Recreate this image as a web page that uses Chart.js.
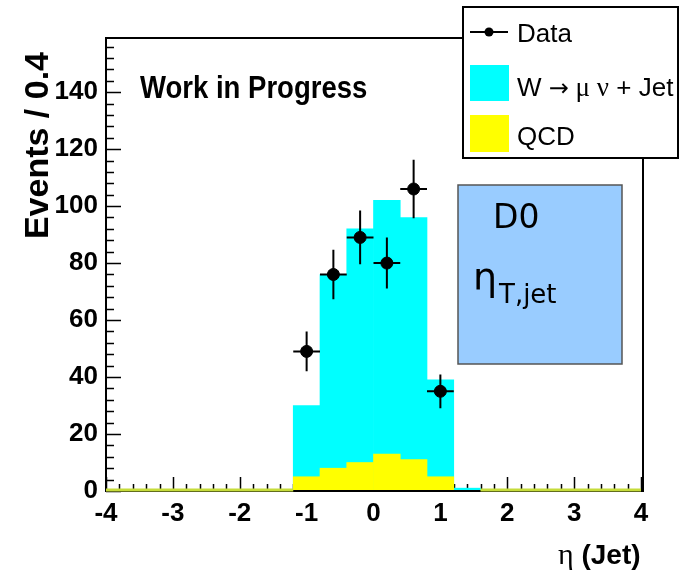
<!DOCTYPE html>
<html>
<head>
<meta charset="utf-8">
<script src="https://cdn.jsdelivr.net/npm/chart.js@4.4.1/dist/chart.umd.min.js"></script>
<style>
  html, body { margin: 0; padding: 0; background: #fff; }
  #wrap { width: 687px; height: 573px; }
</style>
</head>
<body>
<div id="wrap"><canvas id="etaChart" width="687" height="573"></canvas></div>
<script>
// eta(jet) histogram, 20 bins of width 0.4 from -4 to 4
const binCenters = [-3.8, -3.4, -3.0, -2.6, -2.2, -1.8, -1.4, -1.0, -0.6, -0.2,
                    0.2, 0.6, 1.0, 1.4, 1.8, 2.2, 2.6, 3.0, 3.4, 3.8];
const binWidth = 0.4;
const qcd      = [0, 0, 0, 0, 0, 0, 0, 5, 8, 10, 13, 11, 5, 0, 0, 0, 0, 0, 0, 0];
const wjets    = [0, 0, 0, 0, 0, 0, 0, 25, 68, 82, 89, 85, 34, 1, 0, 0, 0, 0, 0, 0];
const observed = [0, 0, 0, 0, 0, 0, 0, 49, 76, 89, 80, 106, 35, 0, 0, 0, 0, 0, 0, 0];

const SANS = "'Liberation Sans', Arial, Helvetica, sans-serif";
const SERIF = "'Liberation Serif', 'Times New Roman', serif";
const HAND = "'DejaVu Sans', sans-serif";

// stacked sum: QCD at the bottom, W+jets above it
const stackTotal = wjets.map((w, i) => w + qcd[i]);

function drawRuns(ctx, x, y, runs) {
  for (const r of runs) {
    ctx.font = r.font;
    ctx.fillText(r.text, x, y);
    x += ctx.measureText(r.text).width;
  }
  return x;
}

const rootStyle = {
  id: 'rootStyle',
  beforeDatasetsDraw(chart) {
    const { ctx, chartArea: a, scales: { x, y } } = chart;
    ctx.save();
    ctx.strokeStyle = '#000';
    ctx.lineWidth = 1.5;
    ctx.beginPath();
    // inward ticks on the x axis: major every 1, minor every 0.2
    for (let v = -4; v <= 4.0001; v += 0.2) {
      const px = Math.round(x.getPixelForValue(v)) + 0.5;
      const major = Math.abs(v - Math.round(v)) < 1e-6;
      ctx.moveTo(px, a.bottom);
      ctx.lineTo(px, a.bottom - (major ? 14 : 7));
    }
    // inward ticks on the y axis: major every 20, minor every 4
    for (let v = 0; v <= 158; v += 4) {
      const py = Math.round(y.getPixelForValue(v)) + 0.5;
      const major = v % 20 === 0;
      ctx.moveTo(a.left, py);
      ctx.lineTo(a.left + (major ? 15 : 8), py);
    }
    ctx.stroke();
    ctx.restore();
  },
  afterDatasetsDraw(chart) {
    const { ctx, chartArea: a, scales: { x, y } } = chart;
    ctx.save();

    // statistical error bars on the data points
    ctx.strokeStyle = '#000';
    ctx.lineWidth = 2;
    ctx.beginPath();
    observed.forEach((n, i) => {
      if (n <= 0) return;
      const err = Math.sqrt(n);
      const cx = x.getPixelForValue(binCenters[i]);
      const cy = y.getPixelForValue(n);
      ctx.moveTo(cx, y.getPixelForValue(n - err));
      ctx.lineTo(cx, y.getPixelForValue(n + err));
      ctx.moveTo(x.getPixelForValue(binCenters[i] - binWidth / 2), cy);
      ctx.lineTo(x.getPixelForValue(binCenters[i] + binWidth / 2), cy);
    });
    ctx.stroke();

    // frame
    ctx.lineWidth = 2;
    ctx.strokeRect(a.left, a.top, a.right - a.left + 2, a.bottom - a.top);

    // histogram outline sitting on zero for empty bins
    ctx.strokeStyle = '#c6dc3a';
    ctx.lineWidth = 3;
    ctx.beginPath();
    stackTotal.forEach((t, i) => {
      if (t > 0) return;
      const y0 = y.getPixelForValue(0) - 1;
      ctx.moveTo(x.getPixelForValue(binCenters[i] - binWidth / 2), y0);
      ctx.lineTo(x.getPixelForValue(binCenters[i] + binWidth / 2), y0);
    });
    ctx.stroke();

    // "Work in Progress"
    ctx.fillStyle = '#000';
    ctx.textBaseline = 'alphabetic';
    ctx.save();
    ctx.translate(140, 98);
    ctx.scale(0.86, 1);
    ctx.font = 'bold 32px ' + SANS;
    ctx.fillText('Work in Progress', 0, 0);
    ctx.restore();

    // y axis title
    ctx.save();
    ctx.translate(48, 52);
    ctx.rotate(-Math.PI / 2);
    ctx.textAlign = 'right';
    ctx.font = 'bold 34px ' + SANS;
    ctx.fillText('Events / 0.4', 0, 0);
    ctx.restore();

    // x axis title
    drawRuns(ctx, 558, 564, [
      { text: '\u03b7', font: '30px ' + SERIF },
      { text: ' (Jet)', font: 'bold 28px ' + SANS }
    ]);

    // legend
    const lx = 463, ly = 7, lw = 215, lh = 151;
    ctx.fillStyle = '#fff';
    ctx.fillRect(lx, ly, lw, lh);
    ctx.strokeStyle = '#000';
    ctx.lineWidth = 2;
    ctx.strokeRect(lx, ly, lw, lh);
    ctx.save();
    ctx.beginPath();
    ctx.rect(lx, ly, lw - 1, lh);
    ctx.clip();
    ctx.beginPath();
    ctx.moveTo(470, 32);
    ctx.lineTo(508, 32);
    ctx.stroke();
    ctx.fillStyle = '#000';
    ctx.beginPath();
    ctx.arc(489, 32, 4.5, 0, Math.PI * 2);
    ctx.fill();
    ctx.font = '26px ' + SANS;
    ctx.fillText('Data', 517, 42);
    ctx.fillStyle = '#00ffff';
    ctx.fillRect(470, 65, 39, 36);
    ctx.fillStyle = '#000';
    drawRuns(ctx, 517, 96, [
      { text: 'W ', font: '26px ' + SANS },
      { text: '\u2192', font: '24px ' + HAND },
      { text: ' \u03bc \u03bd', font: '27px ' + SERIF },
      { text: ' + Jet', font: '26px ' + SANS }
    ]);
    ctx.fillStyle = '#ffff00';
    ctx.fillRect(470, 115, 39, 37);
    ctx.fillStyle = '#000';
    ctx.font = '26px ' + SANS;
    ctx.fillText('QCD', 517, 145);
    ctx.restore();

    // D0 label box
    ctx.fillStyle = '#99ccff';
    ctx.fillRect(458, 185, 164, 179);
    ctx.strokeStyle = '#555';
    ctx.lineWidth = 1.5;
    ctx.strokeRect(458, 185, 164, 179);
    ctx.fillStyle = '#000';
    ctx.font = '33px ' + HAND;
    ctx.fillText('D0', 493, 228);
    ctx.font = '38px ' + HAND;
    ctx.fillText('\u03b7', 473, 290);
    ctx.font = '26px ' + HAND;
    ctx.fillText('T,jet', 499, 303);

    ctx.restore();
  }
};

const ctx = document.getElementById('etaChart').getContext('2d');
const etaChart = new Chart(ctx, {
  type: 'bar',
  data: {
    datasets: [
      {
        type: 'line',
        label: 'Data',
        data: binCenters.map((c, i) => ({ x: c, y: observed[i] > 0 ? observed[i] : null })),
        showLine: false,
        pointRadius: 6,
        pointBackgroundColor: '#000',
        pointBorderColor: '#000',
        borderColor: '#000',
        order: 1
      },
      {
        label: 'QCD',
        data: binCenters.map((c, i) => ({ x: c, y: qcd[i] })),
        backgroundColor: '#ffff00',
        borderWidth: 0,
        barPercentage: 1,
        categoryPercentage: 1,
        grouped: false,
        order: 2
      },
      {
        label: 'W \u2192 \u03bc \u03bd + Jet',
        data: binCenters.map((c, i) => ({ x: c, y: stackTotal[i] })),
        backgroundColor: '#00ffff',
        borderWidth: 0,
        barPercentage: 1,
        categoryPercentage: 1,
        grouped: false,
        order: 3
      }
    ]
  },
  options: {
    responsive: false,
    animation: false,
    layout: { padding: { top: 38, right: 46, bottom: 0, left: 0 } },
    plugins: {
      legend: { display: false },
      tooltip: { enabled: false }
    },
    scales: {
      x: {
        type: 'linear',
        min: -4,
        max: 4,
        offset: false,
        grid: { display: false, drawTicks: false },
        border: { display: false },
        ticks: {
          stepSize: 1,
          padding: 7,
          color: '#000',
          font: { family: SANS, size: 26, weight: 'bold' }
        },
        afterFit(scale) { scale.height = 82; }
      },
      y: {
        min: 0,
        max: 159,
        grid: { display: false, drawTicks: false },
        border: { display: false },
        ticks: {
          stepSize: 20,
          includeBounds: false,
          padding: 8,
          color: '#000',
          font: { family: SANS, size: 26, weight: 'bold' }
        },
        afterFit(scale) { scale.width = 106; }
      }
    }
  },
  plugins: [rootStyle]
});
</script>
</body>
</html>
